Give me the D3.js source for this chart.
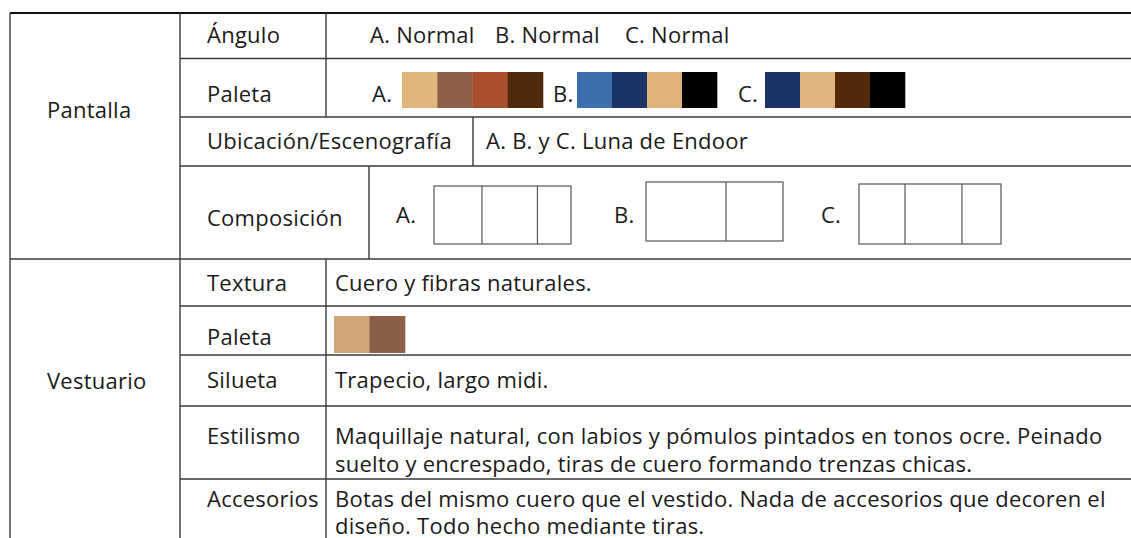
<!DOCTYPE html>
<html><head><meta charset="utf-8">
<script src="https://cdn.jsdelivr.net/npm/d3@7"></script>
<style>html,body{margin:0;padding:0;background:#fff;}svg{display:block;}</style>
</head><body>
<script>
// ---- data ----
const sections = ["Pantalla", "Vestuario"];
const pantallaRows = ["Ángulo", "Paleta", "Ubicación/Escenografía", "Composición"];
const vestuarioRows = ["Textura", "Paleta", "Silueta", "Estilismo", "Accesorios"];
const anguloText = ["A. Normal", "B. Normal", "C. Normal"];
const ubicacionText = "A. B. y C. Luna de Endoor";
const optionLabels = ["A.", "B.", "C."];
const paletteA = ["#dfb67c", "#8f6049", "#a94f2e", "#4f2a0d"];
const paletteB = ["#3e6db0", "#1a3566", "#dfb27a", "#000000"];
const paletteC = ["#1a3566", "#e0b57e", "#552a0c", "#000000"];
const vestPalette = ["#d0a577", "#8b5e48"];
const compA = [0.35, 0.405, 0.245];
const compB = [0.584, 0.416];
const compC = [0.324, 0.401, 0.275];
const texturaText = "Cuero y fibras naturales.";
const siluetaText = "Trapecio, largo midi.";
const estilismoText = ["Maquillaje natural, con labios y pómulos pintados en tonos ocre. Peinado",
                       "suelto y encrespado, tiras de cuero formando trenzas chicas."];
const accesoriosText = ["Botas del mismo cuero que el vestido. Nada de accesorios que decoren el",
                        "diseño. Todo hecho mediante tiras."];

// ---- layout ----
const W = 1131, H = 538;
const svg = d3.select("body").append("svg").attr("width", W).attr("height", H);
const FONT = "'Open Sans', 'Noto Sans', sans-serif";
const FS = 22;

const gLines = svg.append("g").attr("stroke", "#3a3a3a").attr("stroke-width", 1.4).attr("fill", "none");
const hline = (y, x0, x1, col, w) => gLines.append("line").attr("x1", x0).attr("x2", x1).attr("y1", y).attr("y2", y)
   .attr("stroke", col || null).attr("stroke-width", w || null);
const vline = (x, y0, y1) => gLines.append("line").attr("x1", x).attr("x2", x).attr("y1", y0).attr("y2", y1);

const pY = [13, 58.5, 117, 166, 259];
const vY = [259, 306, 355, 406, 479, 560];
const X0 = 10, X1 = 180, XV = 326;

hline(pY[0], X0, W, "#111", 1.8);
pY.slice(1, 4).forEach(y => hline(y, X1, W));
hline(pY[4], X0, W);
vY.slice(1, 5).forEach(y => hline(y, X1, W));
vline(X0, pY[0], H);
vline(X1, pY[0], H);
vline(XV, pY[0], pY[2]);
vline(473, pY[2], pY[3]);
vline(369, pY[3], pY[4]);
vline(XV, vY[0], H);

const txt = (s, x, y, anchor) => svg.append("text").attr("x", x).attr("y", y)
  .attr("font-family", FONT).attr("font-size", FS).attr("fill", "#1a1a1a")
  .attr("letter-spacing", 0.25)
  .attr("text-anchor", anchor || "start").text(s);

// section labels
txt(sections[0], 47, 118);
txt(sections[1], 47, 389);

// row labels
const pBase = [43, 102, 149, 226];
pantallaRows.forEach((r, i) => txt(r, 207, pBase[i]));
const vBase = [291, 345, 388, 444, 507];
vestuarioRows.forEach((r, i) => txt(r, 207, vBase[i]));

// Ángulo
const angX = [370, 495, 625];
anguloText.forEach((s, i) => txt(s, angX[i], 43));
// Paleta swatches
const palettes = [paletteA, paletteB, paletteC];
const palX = [[372, 402, 543], [553, 577, 717], [738, 765, 905]];
palettes.forEach((p, k) => {
  txt(optionLabels[k], palX[k][0], 102);
  const xs = d3.scaleBand().domain(d3.range(p.length)).range([palX[k][1], palX[k][2]]);
  svg.append("g").selectAll("rect").data(p).join("rect")
    .attr("x", (d, i) => xs(i)).attr("width", xs.bandwidth() + 0.3)
    .attr("y", 72).attr("height", 36).attr("fill", d => d);
});
// Ubicación
txt(ubicacionText, 486, 149);
// Composición
const comps = [compA, compB, compC];
const compBox = [{lx: 396, x0: 434, x1: 571, y0: 186, y1: 244},
                 {lx: 614, x0: 646, x1: 783, y0: 182, y1: 241},
                 {lx: 821, x0: 859, x1: 1001, y0: 184, y1: 244}];
comps.forEach((c, k) => {
  const b = compBox[k];
  txt(optionLabels[k], b.lx, 223);
  const sx = d3.scaleLinear().domain([0, 1]).range([b.x0, b.x1]);
  const cum = d3.cumsum(c);
  const g = svg.append("g").attr("stroke", "#555").attr("stroke-width", 1.2).attr("fill", "none");
  g.append("rect").attr("x", b.x0).attr("y", b.y0).attr("width", b.x1 - b.x0).attr("height", b.y1 - b.y0);
  g.selectAll("line").data(cum.slice(0, -1)).join("line")
    .attr("x1", d => sx(d)).attr("x2", d => sx(d)).attr("y1", b.y0).attr("y2", b.y1);
});

// Vestuario values
const VX = 335;
txt(texturaText, VX, 291);
const vsx = d3.scaleBand().domain(d3.range(vestPalette.length)).range([334, 405]);
svg.append("g").selectAll("rect").data(vestPalette).join("rect")
  .attr("x", (d, i) => vsx(i)).attr("width", vsx.bandwidth() + 0.3)
  .attr("y", 316).attr("height", 37).attr("fill", d => d);
txt(siluetaText, VX, 388);
estilismoText.forEach((s, i) => txt(s, VX, 444 + i * 28));
accesoriosText.forEach((s, i) => txt(s, VX, 507 + i * 27));
</script>
</body></html>
